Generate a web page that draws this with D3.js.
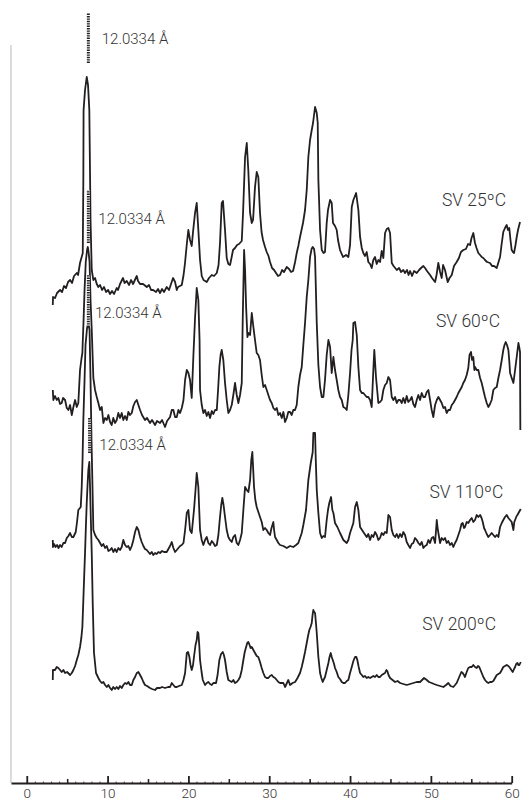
<!DOCTYPE html>
<html lang="en">
<head>
<meta charset="UTF-8">
<title>XRD patterns SV</title>
<script src="https://d3js.org/d3.v7.min.js"></script>
<style>
    body { margin: 0; background: #fff; }
    svg text { font-family: Roboto, "Open Sans", sans-serif; font-weight: 300; fill: #333; }
</style>
</head>
<body>
<svg width="532" height="803"></svg>
<script>
// 2-theta (deg), intensity above each pattern's own baseline (a.u.)
const sv25 = [[3.22,0],[3.25,8],[3.50,7],[3.75,12],[4.12,15],[4.37,13],[4.61,19],[4.86,17],[5.11,23],[5.36,25],[5.60,22],[5.85,29],[6.19,32],[6.35,30],[6.59,42],[6.93,52],[7.00,125],[7.03,195],[7.21,215],[7.42,228],[7.58,220],[7.74,195],[7.81,145],[7.89,85],[8.04,35],[8.24,25],[8.45,27],[8.66,21],[8.86,18],[9.07,20],[9.32,15],[9.56,18],[9.81,13],[10.06,15],[10.31,11],[10.55,14],[10.80,11],[11.13,17],[11.29,15],[11.54,21],[11.91,27],[12.10,22],[12.37,24],[12.66,20],[12.90,25],[13.15,21],[13.61,29],[13.77,24],[14.02,21],[14.39,21],[14.85,18],[15.13,20],[15.38,15],[15.63,15],[16.00,13],[16.24,16],[16.49,12],[16.74,16],[16.98,13],[17.32,18],[17.60,15],[17.85,21],[18.10,27],[18.35,23],[18.56,15],[18.72,18],[19.18,20],[19.40,30],[19.58,42],[19.79,60],[19.99,75],[20.20,65],[20.41,59],[20.57,73],[20.82,92],[21.03,102],[21.23,75],[21.44,45],[21.65,29],[21.87,25],[22.27,23],[22.55,27],[22.89,30],[23.17,29],[23.51,32],[23.73,40],[23.91,62],[24.12,102],[24.28,104],[24.53,75],[24.74,47],[24.94,41],[25.15,40],[25.33,47],[25.52,55],[25.77,57],[26.02,60],[26.26,61],[26.60,64],[26.76,92],[27.01,148],[27.22,162],[27.41,135],[27.63,92],[27.84,82],[28.00,85],[28.24,118],[28.45,133],[28.65,128],[28.86,92],[29.05,73],[29.23,65],[29.48,58],[29.69,53],[29.91,49],[30.10,43],[30.35,37],[30.60,35],[30.84,32],[31.09,29],[31.34,30],[31.59,35],[31.83,33],[32.17,38],[32.45,36],[32.70,33],[32.95,34],[33.20,43],[33.40,52],[33.60,59],[33.81,68],[34.18,82],[34.43,95],[34.64,115],[34.84,148],[35.05,165],[35.26,175],[35.42,182],[35.67,198],[35.88,192],[36.00,182],[36.08,125],[36.29,75],[36.50,55],[36.72,52],[36.90,53],[37.11,82],[37.27,95],[37.53,105],[37.73,102],[37.89,82],[38.14,79],[38.35,75],[38.51,65],[38.76,55],[39.13,48],[39.50,50],[39.79,48],[40.00,60],[40.21,98],[40.41,105],[40.75,112],[41.03,95],[41.24,68],[41.45,57],[41.64,52],[41.85,49],[42.06,53],[42.26,43],[42.48,41],[42.68,37],[42.88,45],[43.09,48],[43.30,41],[43.50,45],[43.71,43],[43.92,54],[44.12,47],[44.33,72],[44.54,76],[44.74,77],[44.95,72],[45.16,42],[45.38,39],[45.78,35],[46.07,37],[46.31,33],[46.59,35],[46.80,32],[47.05,35],[47.24,30],[47.43,34],[47.67,29],[47.92,34],[48.25,32],[48.54,35],[48.78,37],[49.07,39],[49.28,37],[49.52,34],[49.90,30],[50.14,27],[50.52,23],[50.70,30],[50.92,42],[51.14,33],[51.34,27],[51.51,40],[51.75,35],[52.08,23],[52.31,27],[52.58,30],[52.86,39],[53.19,43],[53.47,47],[53.72,53],[54.01,55],[54.34,56],[54.60,61],[54.85,60],[55.03,67],[55.25,72],[55.46,62],[55.65,57],[55.87,52],[56.09,50],[56.29,48],[56.49,47],[56.70,45],[56.95,43],[57.32,42],[57.57,39],[57.82,39],[58.15,37],[58.37,43],[58.56,48],[58.74,60],[58.96,73],[59.17,77],[59.38,80],[59.54,75],[59.70,77],[59.85,65],[60.00,55],[60.16,53],[60.29,52],[60.47,60],[60.62,68],[60.78,75],[61.03,83]];

const sv60 = [[3.22,40],[3.29,30],[3.50,34],[3.71,30],[3.91,32],[4.12,26],[4.32,27],[4.49,32],[4.74,30],[4.95,22],[5.15,20],[5.36,25],[5.57,15],[5.77,23],[5.98,30],[6.19,23],[6.38,27],[6.59,60],[6.78,72],[6.88,77],[7.03,110],[7.15,140],[7.30,168],[7.46,180],[7.55,183],[7.65,178],[7.77,168],[7.89,130],[8.04,100],[8.24,52],[8.45,40],[8.66,33],[8.86,27],[9.07,20],[9.28,23],[9.48,7],[9.69,12],[9.90,10],[10.10,15],[10.31,8],[10.51,5],[10.71,12],[10.92,7],[11.13,10],[11.33,17],[11.54,12],[11.75,17],[11.95,10],[12.16,14],[12.37,10],[12.57,18],[12.78,15],[12.99,17],[13.19,24],[13.40,28],[13.61,30],[13.81,25],[14.02,20],[14.26,15],[14.63,10],[14.88,12],[15.25,7],[15.50,10],[15.87,5],[16.12,9],[16.49,7],[16.74,10],[17.11,3],[17.36,9],[17.73,13],[17.94,20],[18.14,20],[18.35,13],[18.56,13],[18.76,20],[18.97,17],[19.18,22],[19.39,30],[19.59,50],[19.80,60],[20.00,57],[20.20,50],[20.41,32],[20.61,73],[20.82,112],[21.03,142],[21.23,130],[21.38,90],[21.44,40],[21.65,25],[21.85,17],[22.06,20],[22.27,14],[22.47,18],[22.68,12],[22.89,19],[23.09,16],[23.30,20],[23.51,20],[23.67,40],[23.83,63],[23.98,75],[24.12,80],[24.32,70],[24.53,47],[24.74,30],[24.94,17],[25.15,20],[25.36,25],[25.56,35],[25.77,47],[25.98,35],[26.18,27],[26.39,35],[26.60,47],[26.72,110],[26.89,180],[27.01,160],[27.14,123],[27.30,93],[27.45,97],[27.63,95],[27.84,117],[28.04,103],[28.24,90],[28.45,77],[28.65,75],[28.86,70],[29.07,55],[29.27,43],[29.48,45],[29.69,40],[29.89,35],[30.10,30],[30.31,27],[30.51,22],[30.72,20],[30.93,22],[31.13,15],[31.34,17],[31.55,12],[31.75,18],[31.96,8],[32.17,12],[32.36,18],[32.58,18],[32.78,15],[32.98,20],[33.19,20],[33.40,25],[33.60,43],[33.81,55],[34.02,63],[34.22,85],[34.43,107],[34.64,133],[34.84,150],[35.05,173],[35.24,181],[35.38,183],[35.55,181],[35.67,173],[35.88,107],[36.08,65],[36.29,43],[36.50,33],[36.70,33],[36.90,50],[37.11,75],[37.32,90],[37.53,83],[37.73,57],[37.94,73],[38.14,60],[38.35,50],[38.55,40],[38.76,33],[38.97,30],[39.17,23],[39.38,22],[39.59,20],[39.79,35],[40.00,57],[40.18,80],[40.33,90],[40.41,107],[40.62,108],[40.83,95],[41.03,63],[41.24,40],[41.45,37],[41.64,37],[41.85,35],[42.06,33],[42.26,33],[42.48,30],[42.68,23],[42.88,60],[43.00,80],[43.21,53],[43.50,27],[43.71,28],[43.92,30],[44.12,40],[44.33,45],[44.54,47],[44.74,53],[44.95,50],[45.16,33],[45.36,30],[45.57,33],[45.78,27],[45.98,30],[46.19,30],[46.40,27],[46.59,32],[46.80,27],[47.01,34],[47.21,28],[47.43,30],[47.63,33],[47.83,26],[48.04,23],[48.25,30],[48.45,35],[48.66,30],[48.87,37],[49.07,33],[49.28,33],[49.49,38],[49.69,40],[49.90,30],[50.10,20],[50.30,13],[50.52,25],[50.73,30],[50.93,33],[51.14,30],[51.34,27],[51.55,22],[51.75,23],[51.96,17],[52.16,20],[52.37,20],[52.58,25],[52.78,27],[52.99,30],[53.19,33],[53.40,37],[53.61,40],[53.82,43],[54.01,47],[54.22,50],[54.43,55],[54.63,62],[54.78,75],[54.97,78],[55.09,70],[55.25,73],[55.38,60],[55.46,63],[55.67,60],[55.87,60],[56.09,52],[56.29,47],[56.49,40],[56.70,33],[56.91,27],[57.11,23],[57.32,26],[57.52,30],[57.73,40],[57.94,42],[58.15,43],[58.35,52],[58.56,60],[58.77,70],[58.96,80],[59.11,85],[59.26,88],[59.42,85],[59.59,80],[59.71,68],[59.80,57],[60.00,52],[60.21,47],[60.42,60],[60.62,73],[60.83,87],[60.95,82],[61.03,78],[61.07,0]];

const sv110 = [[3.22,20],[3.24,13],[3.38,16],[3.56,13],[3.75,15],[3.93,12],[4.12,15],[4.32,13],[4.53,17],[4.74,17],[4.95,22],[5.15,24],[5.36,27],[5.57,23],[5.77,23],[6.06,28],[6.22,38],[6.38,50],[6.68,53],[6.80,73],[6.90,100],[7.00,140],[7.15,180],[7.27,215],[7.46,232],[7.62,237],[7.77,230],[7.89,180],[8.01,120],[8.14,70],[8.24,30],[8.45,25],[8.66,22],[8.86,20],[9.07,17],[9.28,14],[9.48,16],[9.69,12],[9.90,14],[10.10,9],[10.31,10],[10.51,12],[10.71,8],[10.92,11],[11.13,8],[11.33,12],[11.54,10],[11.75,13],[11.95,20],[12.16,15],[12.37,13],[12.57,14],[12.78,10],[12.99,14],[13.19,20],[13.40,28],[13.61,33],[13.81,30],[14.02,23],[14.22,18],[14.43,14],[14.63,11],[14.85,10],[15.05,8],[15.25,6],[15.46,8],[15.66,5],[15.87,7],[16.08,6],[16.28,8],[16.49,7],[16.74,9],[16.98,8],[17.32,8],[17.52,11],[17.73,14],[17.94,18],[18.14,12],[18.35,8],[18.56,10],[18.76,12],[18.97,14],[19.18,15],[19.39,17],[19.59,30],[19.80,47],[20.00,50],[20.20,30],[20.41,27],[20.57,40],[20.69,50],[20.88,70],[21.03,87],[21.23,73],[21.34,50],[21.44,30],[21.65,20],[21.85,15],[22.06,20],[22.27,23],[22.47,17],[22.68,15],[22.89,19],[23.09,17],[23.30,14],[23.51,15],[23.71,25],[23.91,43],[24.06,55],[24.20,62],[24.35,55],[24.53,43],[24.74,30],[24.94,23],[25.15,20],[25.36,18],[25.56,23],[25.77,25],[25.98,17],[26.18,15],[26.39,20],[26.60,27],[26.80,50],[27.01,73],[27.22,70],[27.42,68],[27.63,80],[27.78,100],[27.91,108],[28.02,90],[28.12,73],[28.28,60],[28.45,53],[28.65,48],[28.86,43],[29.07,38],[29.27,30],[29.48,32],[29.69,30],[29.89,27],[30.10,25],[30.28,32],[30.51,38],[30.60,30],[30.72,23],[30.93,20],[31.13,17],[31.34,15],[31.75,14],[32.17,12],[32.58,14],[32.98,13],[33.32,15],[33.60,17],[34.02,27],[34.22,35],[34.55,50],[34.84,80],[35.14,97],[35.38,108],[35.46,127],[35.67,127],[35.76,100],[35.88,70],[36.08,47],[36.29,27],[36.50,22],[36.70,24],[36.90,23],[37.11,40],[37.27,50],[37.43,57],[37.65,63],[37.81,50],[37.94,47],[38.14,37],[38.43,33],[38.76,27],[39.17,20],[39.59,17],[39.79,20],[40.00,27],[40.41,37],[40.62,53],[40.83,58],[41.03,50],[41.24,33],[41.64,28],[42.06,23],[42.26,26],[42.48,20],[42.68,25],[42.88,23],[43.09,28],[43.30,25],[43.50,20],[43.71,22],[43.92,27],[44.12,25],[44.33,28],[44.54,27],[44.74,45],[44.95,43],[45.16,30],[45.36,25],[45.57,23],[45.78,26],[45.98,22],[46.19,26],[46.40,23],[46.59,28],[46.80,25],[47.01,18],[47.21,15],[47.43,12],[47.63,16],[47.83,17],[48.04,22],[48.25,20],[48.45,17],[48.66,15],[48.87,18],[49.07,12],[49.28,14],[49.49,15],[49.69,20],[49.90,17],[50.10,22],[50.30,23],[50.52,17],[50.64,30],[50.73,40],[50.83,32],[50.93,27],[51.14,17],[51.34,22],[51.55,20],[51.75,22],[51.96,17],[52.16,19],[52.37,15],[52.58,17],[52.78,13],[52.99,17],[53.19,20],[53.40,25],[53.61,30],[53.79,36],[53.94,37],[54.10,32],[54.22,33],[54.43,38],[54.63,37],[54.85,40],[55.05,42],[55.25,38],[55.46,40],[55.67,45],[55.87,43],[56.09,45],[56.27,42],[56.42,38],[56.58,32],[56.70,30],[56.91,26],[57.11,23],[57.32,25],[57.52,27],[57.73,25],[57.94,23],[58.15,25],[58.35,23],[58.56,33],[58.77,37],[58.96,40],[59.17,43],[59.38,45],[59.59,42],[59.80,40],[60.00,38],[60.21,30],[60.32,38],[60.42,40],[60.61,44],[60.71,45],[60.91,48],[61.12,51]];

const sv200 = [[3.22,20],[3.24,30],[3.50,30],[3.71,33],[3.91,32],[4.12,30],[4.32,28],[4.53,30],[4.74,27],[4.99,28],[5.36,25],[5.57,27],[5.77,30],[5.98,34],[6.19,40],[6.38,45],[6.59,53],[6.75,62],[6.88,73],[7.00,100],[7.11,125],[7.21,147],[7.31,172],[7.42,197],[7.52,215],[7.62,230],[7.74,238],[7.83,213],[7.93,180],[8.04,147],[8.16,97],[8.32,47],[8.57,27],[8.86,22],[9.07,19],[9.28,17],[9.48,18],[9.69,15],[9.90,13],[10.10,15],[10.31,12],[10.51,10],[10.71,13],[10.92,11],[11.13,13],[11.33,11],[11.54,14],[11.75,12],[11.95,15],[12.16,17],[12.37,16],[12.57,18],[12.78,15],[12.99,15],[13.19,20],[13.40,23],[13.61,27],[13.81,28],[14.02,25],[14.22,22],[14.43,18],[14.63,15],[14.88,14],[15.25,12],[15.50,11],[15.87,10],[16.12,12],[16.49,12],[16.74,13],[17.11,12],[17.48,13],[17.73,13],[17.94,17],[18.14,15],[18.35,13],[18.56,13],[18.84,14],[19.18,15],[19.39,20],[19.59,27],[19.80,47],[19.96,48],[20.12,43],[20.26,35],[20.41,30],[20.57,35],[20.69,43],[20.88,55],[21.03,60],[21.13,68],[21.23,67],[21.34,55],[21.44,40],[21.63,28],[21.78,20],[22.06,15],[22.27,17],[22.47,18],[22.68,16],[22.89,15],[23.09,17],[23.42,17],[23.61,25],[23.83,40],[24.04,46],[24.25,48],[24.39,45],[24.53,40],[24.74,28],[24.94,20],[25.15,19],[25.36,18],[25.56,20],[25.77,17],[25.98,18],[26.18,20],[26.39,23],[26.60,30],[26.80,40],[26.97,48],[27.14,53],[27.28,57],[27.42,58],[27.57,55],[27.69,52],[27.84,53],[28.04,50],[28.24,47],[28.45,44],[28.65,43],[28.86,38],[29.07,32],[29.27,27],[29.48,23],[29.69,22],[29.89,22],[30.10,24],[30.31,25],[30.51,23],[30.72,22],[30.93,20],[31.13,18],[31.34,17],[31.75,17],[31.96,13],[32.36,20],[32.58,15],[32.89,17],[33.20,18],[33.50,22],[33.81,27],[34.02,33],[34.22,40],[34.43,48],[34.64,57],[34.80,64],[34.96,70],[35.11,73],[35.26,77],[35.36,85],[35.46,90],[35.57,88],[35.67,87],[35.77,78],[35.88,67],[35.98,55],[36.08,43],[36.29,27],[36.45,22],[36.62,18],[36.78,21],[36.90,23],[37.11,30],[37.32,37],[37.46,43],[37.61,47],[37.73,43],[37.86,40],[38.02,36],[38.14,32],[38.35,28],[38.55,23],[38.76,21],[38.97,18],[39.17,17],[39.38,17],[39.59,19],[39.79,20],[40.00,27],[40.21,33],[40.41,39],[40.62,43],[40.78,43],[40.90,40],[41.07,33],[41.24,27],[41.45,25],[41.64,23],[41.85,24],[42.06,22],[42.26,23],[42.48,22],[42.68,23],[42.88,24],[43.09,23],[43.30,25],[43.50,23],[43.71,23],[43.92,25],[44.12,26],[44.33,27],[44.50,30],[44.61,29],[44.76,25],[44.95,22],[45.26,20],[45.57,18],[45.88,19],[46.19,17],[46.59,16],[47.01,15],[47.43,16],[47.83,17],[48.25,18],[48.66,18],[48.91,20],[49.15,22],[49.49,20],[49.77,18],[50.10,17],[50.39,16],[50.73,15],[51.14,14],[51.55,13],[51.88,15],[52.16,17],[52.43,14],[52.78,13],[52.99,15],[53.19,17],[53.40,21],[53.61,25],[53.77,28],[53.94,27],[54.10,25],[54.22,23],[54.43,28],[54.63,32],[54.85,33],[55.05,33],[55.25,35],[55.46,33],[55.67,32],[55.83,34],[55.99,33],[56.14,30],[56.29,27],[56.49,23],[56.70,20],[56.91,18],[57.11,17],[57.32,18],[57.52,18],[57.73,19],[57.94,22],[58.15,25],[58.35,26],[58.56,27],[58.77,30],[58.96,33],[59.17,34],[59.38,35],[59.59,34],[59.80,32],[59.95,30],[60.13,28],[60.29,31],[60.42,33],[60.56,36],[60.71,37],[60.83,35],[60.95,35],[61.12,38]];

const seriesNames = ["SV 25ºC", "SV 60ºC", "SV 110ºC", "SV 200ºC"];
const seriesData = [sv25, sv60, sv110, sv200];
const seriesOffsets = [478, 353, 223, 83];

// sample label anchor (2-theta, intensity above baseline)
const nameX = [59.30, 58.56, 58.96, 58.06];
const nameY = [99, 103, 62, 70];

// d-spacing annotation over the first reflection
const peakLabel = "12.0334 Å";
const peakMarkX = [7.62, 7.62, 7.62, 7.77];
const peakMarkLow = [242, 187, 233, 247];
const peakMarkHigh = [292, 240, 285, 282];
const peakTextX = [9.28, 8.86, 8.45, 8.98];
const peakTextY = [261, 206, 242, 250];

const xTicks = [0, 10, 20, 30, 40, 50, 60];

const svg = d3.select("svg");

const x = d3.scaleLinear().domain([-1.95, 60]).range([11, 511.7]);
const y = d3.scaleLinear().domain([0, 740]).range([783, 43]);

// left frame line (light)
svg.append("line")
    .attr("x1", x(-1.95)).attr("x2", x(-1.95))
    .attr("y1", y(0)).attr("y2", y(738))
    .attr("stroke", "#c4c4c4")
    .attr("stroke-width", 1.2);

// patterns
const line = d3.line()
    .x(d => x(d[0]))
    .y(d => d.y);

seriesData.forEach((s, i) => {
    const pts = s.map(d => { const p = [d[0], d[1]]; p.y = y(d[1] + seriesOffsets[i]); return p; });
    svg.append("path")
        .datum(pts)
        .attr("fill", "none")
        .attr("stroke", "#231f20")
        .attr("stroke-width", 1.8)
        .attr("stroke-linejoin", "round")
        .attr("d", line);
});

// dashed reflection markers (white under, black dashes over)
seriesOffsets.forEach((off, i) => {
    const xm = x(peakMarkX[i]);
    svg.append("line")
        .attr("x1", xm).attr("x2", xm)
        .attr("y1", y(peakMarkLow[i] + off)).attr("y2", y(peakMarkHigh[i] + off))
        .attr("stroke", "#fff")
        .attr("stroke-width", 3);
    svg.append("line")
        .attr("x1", xm).attr("x2", xm)
        .attr("y1", y(peakMarkLow[i] + off)).attr("y2", y(peakMarkHigh[i] + off))
        .attr("stroke", "#231f20")
        .attr("stroke-width", 3)
        .attr("stroke-dasharray", "1.4,1");

    svg.append("text")
        .attr("x", x(peakTextX[i]))
        .attr("y", y(peakTextY[i] + off))
        .style("font-size", "15px")
        .text(peakLabel);
});

// sample names
seriesNames.forEach((n, i) => {
    svg.append("text")
        .attr("x", x(nameX[i]))
        .attr("y", y(nameY[i] + seriesOffsets[i]))
        .attr("text-anchor", "end")
        .style("font-size", "17.5px")
        .text(n);
});

// bottom axis
const axisG = svg.append("g")
    .attr("transform", `translate(0,${y(0)})`);

axisG.append("g")
    .call(d3.axisBottom(x).tickValues(d3.range(0, 61, 1)).tickSize(-1.5).tickFormat(""))
    .call(g => g.select(".domain").remove())
    .call(g => g.selectAll(".tick line").attr("stroke", "#231f20").attr("stroke-width", 0.8));

axisG.append("g")
    .call(d3.axisBottom(x).tickValues(d3.range(5, 60, 10)).tickSize(-4).tickFormat(""))
    .call(g => g.select(".domain").remove())
    .call(g => g.selectAll(".tick line").attr("stroke", "#231f20").attr("stroke-width", 1.5));

axisG.append("g")
    .call(d3.axisBottom(x).tickValues(xTicks).tickSize(-7).tickSizeOuter(0).tickPadding(5))
    .call(g => g.select(".domain").attr("stroke", "#231f20").attr("stroke-width", 2))
    .call(g => g.selectAll(".tick line").attr("stroke", "#231f20").attr("stroke-width", 1.8))
    .call(g => g.selectAll(".tick text").style("font-size", "13.5px").attr("fill", "#333"));
</script>
</body>
</html>
